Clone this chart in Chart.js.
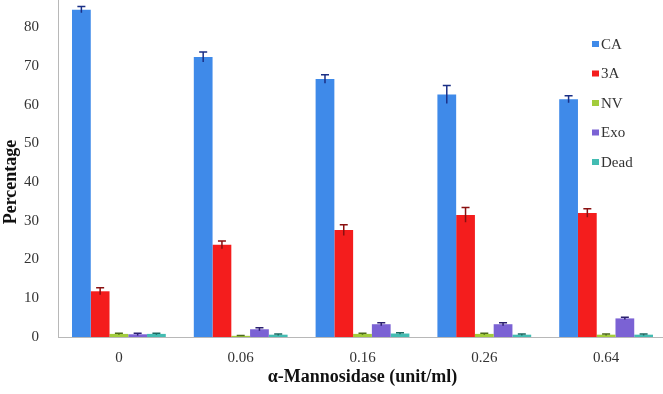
<!DOCTYPE html>
<html>
<head>
<meta charset="utf-8">
<script src="https://cdn.jsdelivr.net/npm/chart.js@4/dist/chart.umd.min.js"></script>
<style>
  html, body { margin: 0; padding: 0; background: #fff; overflow: hidden; }
  #wrap { position: relative; width: 663px; height: 394px; overflow: hidden; }
</style>
</head>
<body>
<div id="wrap"><canvas id="chart" width="667" height="394"></canvas></div>
<script>
// Data
const doses = ['0', '0.06', '0.16', '0.26', '0.64'];
const seriesNames = ['CA', '3A', 'NV', 'Exo', 'Dead'];
const caValues = [84.5, 72.3, 66.6, 62.6, 61.4];
const caErrors = [0.8, 1.3, 1.1, 2.3, 0.9];
const aValues = [11.8, 23.8, 27.6, 31.5, 32.0];
const aErrors = [0.9, 1.0, 1.4, 1.9, 1.1];
const nvValues = [0.8, 0.3, 0.8, 0.8, 0.6];
const nvErrors = [0.2, 0.1, 0.2, 0.2, 0.2];
const exoValues = [0.7, 2.0, 3.3, 3.3, 4.8];
const exoErrors = [0.3, 0.4, 0.4, 0.4, 0.3];
const deadValues = [0.8, 0.6, 0.9, 0.6, 0.6];
const deadErrors = [0.2, 0.2, 0.2, 0.2, 0.2];
const yTicks = [0, 10, 20, 30, 40, 50, 60, 70, 80];
const yTitle = 'Percentage';

const colors = {
    ca: '#3f8ae9',
    a: '#f41d1d',
    nv: '#a2cc3c',
    exo: '#7b62d4',
    dead: '#43bcb2'
};
const errColors = ['#1a2f86', '#8a1010', '#4d6a1a', '#2b2070', '#1d6a62'];

const serif = '"Liberation Serif", "DejaVu Serif", serif';

// Error bars drawn on top of each bar
const errorBars = {
    id: 'errorBars',
    afterDatasetsDraw(chart) {
        const ctx = chart.ctx;
        const y = chart.scales.y;
        chart.data.datasets.forEach((ds, i) => {
            const meta = chart.getDatasetMeta(i);
            ctx.save();
            ctx.strokeStyle = errColors[i];
            ctx.lineWidth = 1.5;
            meta.data.forEach((bar, j) => {
                const v = ds.data[j];
                const e = ds.errors[j];
                const top = y.getPixelForValue(v + e);
                const bot = y.getPixelForValue(Math.max(v - e, 0));
                ctx.beginPath();
                ctx.moveTo(bar.x, top);
                ctx.lineTo(bar.x, bot);
                ctx.moveTo(bar.x - 4, top);
                ctx.lineTo(bar.x + 4, top);
                ctx.stroke();
            });
            ctx.restore();
        });
    }
};

// Legend in the upper right of the plot, plus the vertical axis title
const sideLegend = {
    id: 'sideLegend',
    afterDraw(chart) {
        const ctx = chart.ctx;
        ctx.save();
        ctx.font = '15px ' + serif;
        ctx.textBaseline = 'middle';
        chart.data.datasets.forEach((ds, i) => {
            const ly = 44 + i * 29.5;
            ctx.fillStyle = ds.backgroundColor;
            ctx.fillRect(592, ly - 3, 7, 6);
            ctx.fillStyle = '#333';
            ctx.fillText(ds.label, 601, ly + 1);
        });
        ctx.restore();

        ctx.save();
        ctx.translate(11, 182);
        ctx.rotate(-Math.PI / 2);
        ctx.font = 'bold 18px ' + serif;
        ctx.fillStyle = '#111';
        ctx.textAlign = 'center';
        ctx.textBaseline = 'middle';
        ctx.fillText(yTitle, 0, 0);
        ctx.restore();
    }
};

const valueSets = [caValues, aValues, nvValues, exoValues, deadValues];
const errorSets = [caErrors, aErrors, nvErrors, exoErrors, deadErrors];
const fills = [colors.ca, colors.a, colors.nv, colors.exo, colors.dead];

new Chart(document.getElementById('chart'), {
    type: 'bar',
    data: {
        labels: doses,
        datasets: seriesNames.map((name, i) => ({
            label: name,
            data: valueSets[i],
            errors: errorSets[i],
            backgroundColor: fills[i],
            borderWidth: 0,
            categoryPercentage: 0.77,
            barPercentage: 1.0
        }))
    },
    options: {
        responsive: false,
        animation: false,
        layout: { padding: 0 },
        plugins: {
            legend: { display: false },
            tooltip: { enabled: false }
        },
        scales: {
            x: {
                grid: { display: false, drawTicks: true },
                border: { color: '#b8b8b8', width: 1 },
                ticks: {
                    color: '#333',
                    font: { family: serif, size: 15 },
                    padding: 4
                },
                title: {
                    display: true,
                    text: 'α-Mannosidase (unit/ml)',
                    color: '#111',
                    font: { family: serif, size: 18, weight: 'bold' },
                    padding: { top: 0, bottom: 6 }
                },
                afterFit: scale => { scale.height = 57; }
            },
            y: {
                min: 0,
                max: 87,
                afterBuildTicks: scale => { scale.ticks = yTicks.map(v => ({ value: v })); },
                grid: { display: false, drawTicks: true, tickLength: 4, tickColor: '#b8b8b8' },
                border: { color: '#b8b8b8', width: 1 },
                ticks: {
                    color: '#333',
                    font: { family: serif, size: 15 },
                    padding: 15
                },
                title: { display: false },
                afterFit: scale => {
                    scale.width = 58;
                    scale.paddingTop = 0;
                }
            }
        }
    },
    plugins: [errorBars, sideLegend]
});
</script>
</body>
</html>
